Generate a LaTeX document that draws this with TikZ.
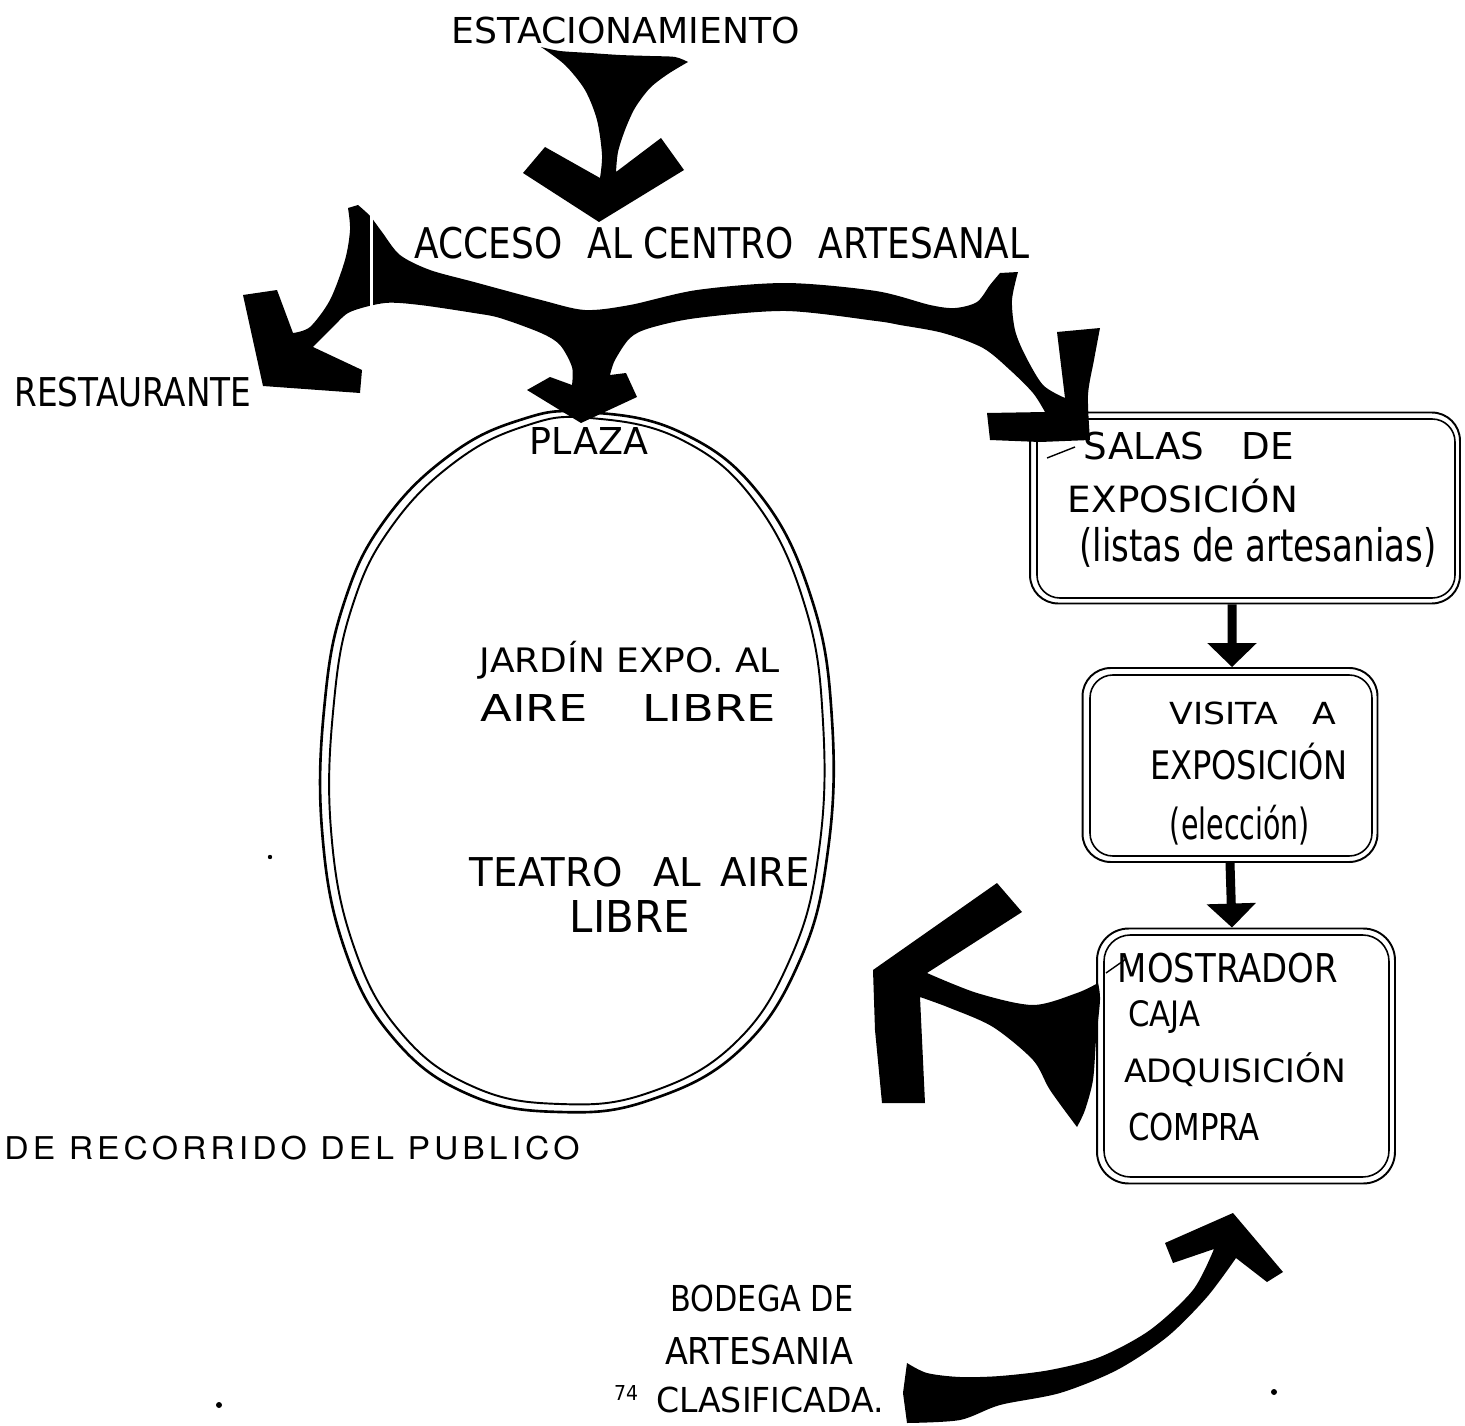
\documentclass[tikz,border=0pt]{standalone}
\usepackage{fontspec}
\setmainfont{DejaVu Sans}
\newfontfamily\typedfont[LetterSpace=12]{TeX Gyre Heros}
\usetikzlibrary{arrows.meta}
\newdimen\pxu \pxu=0.02cm
\newcommand{\hw}[3]{\resizebox*{#1\pxu}{#2\pxu}{#3}}
\begin{document}
\begin{tikzpicture}[x=0.02cm,y=-0.02cm,
  lbl/.style={inner sep=0pt, outer sep=0pt, anchor=center},
  ink/.style={fill=black},
  boxline/.style={draw=black, line width=1.1pt},
  ringline/.style={draw=black, line width=1.5pt},
  smallarrow/.style={line width=0.18cm, -{Triangle[width=0.96cm,length=0.48cm]}}
]
\useasboundingbox (0,0) rectangle (1465,1426);
\fill[white] (0,0) rectangle (1465,1426);

% ---------- texts ----------
\node[lbl] (est) at (626,31) {\hw{348}{27}{ESTACIONAMIENTO}};
\node[lbl] (acc) at (722,243) {\hw{615}{32}{ACCESO\hspace{0.7em}AL CENTRO\hspace{0.7em}ARTESANAL}};
\node[lbl] (rest) at (133,392) {\hw{237}{30}{RESTAURANTE}};
\node[lbl] (plaza) at (589,441) {\hw{118}{27}{PLAZA}};

\node[lbl] at (1189,446) {\hw{210}{28}{SALAS\hspace{1em}DE}};
\node[lbl] at (1183,496) {\hw{230}{34}{EXPOSICIÓN}};
\node[lbl] at (1258,547) {\hw{357}{40}{(listas de artesanias)}};

\node[lbl] at (1253,713) {\hw{167}{23}{VISITA\hspace{1em}A}};
\node[lbl] at (1249,762) {\hw{198}{37}{EXPOSICIÓN}};
\node[lbl] at (1240,825) {\hw{140}{40}{(elección)}};

\node[lbl] at (1228,968) {\hw{220}{30}{MOSTRADOR}};
\node[lbl] at (1164,1017) {\hw{72}{33}{CAJA}};
\node[lbl] at (1235,1070) {\hw{222}{34}{ADQUISICIÓN}};
\node[lbl] at (1194,1127) {\hw{132}{28}{COMPRA}};

\node[lbl] at (630,660) {\hw{300}{38}{JARDÍN EXPO.\ AL}};
\node[lbl] at (628,708) {\hw{295}{27}{AIRE\hspace{1.2em}LIBRE}};
\node[lbl] at (640,872) {\hw{340}{30}{TEATRO\hspace{0.8em}AL\hspace{0.5em}AIRE}};
\node[lbl] at (630,916) {\hw{120}{32}{LIBRE}};

\node[lbl] (title) at (292,1148) {\hw{575}{24}{\typedfont DE RECORRIDO DEL PUBLICO}};

\node[lbl] (bod) at (762,1298) {\hw{183}{27}{BODEGA DE}};
\node[lbl] at (759,1351) {\hw{188}{28}{ARTESANIA}};
\node[lbl] at (770,1400) {\hw{228}{26}{CLASIFICADA.}};
\node[lbl] at (626,1393) {\hw{24}{15}{74}};

% ---------- plaza ring ----------
\draw[ringline] plot[smooth cycle, tension=0.7] coordinates {(585,412) (680,432) (760,495) (812,600) (832,720) (828,850) (800,960) (740,1050) (650,1100) (560,1112) (470,1095) (395,1040) (345,950) (322,830) (325,700) (345,600) (385,520) (450,455) (520,420)};
\draw[ringline, line width=1.1pt] plot[smooth cycle, tension=0.7] coordinates {(590,418) (682,440) (756,503) (805,606) (823,722) (819,850) (791,957) (734,1044) (648,1093) (560,1104) (474,1087) (402,1034) (354,947) (331,830) (334,702) (353,604) (392,526) (455,462) (525,426)};

% ---------- boxes ----------
\node[boxline, rounded corners=16pt, minimum width=8.6cm, minimum height=3.82cm, inner sep=0pt] (salas) at (1245,508) {};
\draw[boxline, line width=0.9pt, rounded corners=13pt] (1037,419) rectangle (1455,598);
\node[boxline, rounded corners=16pt, minimum width=5.9cm, minimum height=3.88cm, inner sep=0pt] (visita) at (1230,765) {};
\draw[boxline, line width=0.9pt, rounded corners=13pt] (1090,675) rectangle (1372,856);
\node[boxline, rounded corners=18pt, minimum width=5.96cm, minimum height=5.1cm, inner sep=0pt] (most) at (1246,1056) {};
\draw[boxline, line width=0.9pt, rounded corners=15pt] (1104,935) rectangle (1389,1177);
\draw[line width=0.8pt] (1047,458) -- (1075,447);
\draw[line width=0.8pt] (1106,973) -- (1126,959);

% ---------- small connectors ----------
\draw[smallarrow] ([xshift=-0.26cm]salas.south) -- ([xshift=0.04cm]visita.north);
\draw[smallarrow] (visita.south) -- ([xshift=-0.28cm]most.north);

% ---------- big brush arrows ----------
% parking -> access
\fill[ink] plot[smooth,tension=.5] coordinates {(541,47) (560,51) (590,53) (620,55) (650,56) (675,57) (688,62)}
 -- plot[smooth,tension=.5] coordinates {(688,62) (668,74) (650,88) (635,108) (625,130) (618,152) (616,172)}
 -- (661,138) -- (684,170) -- (599,222) -- (523,173) -- (545,147) -- (600,178)
 -- plot[smooth,tension=.5] coordinates {(600,178) (602,155) (597,120) (585,90) (565,65) (541,47)} -- cycle;

% access -> restaurante / plaza / salas
\fill[ink] plot[smooth,tension=.5] coordinates {(358,205) (370,216) (382,232) (400,255) (430,270) (474,282) (541,300) (585,310) (630,305) (697,290) (786,283) (876,291) (930,305) (955,308) (977,302) (990,285) (1000,273)}
 -- plot[smooth,tension=.5] coordinates {(1018,272) (1012,300) (1015,330) (1025,355) (1043,385) (1065,398)}
 -- (1057,332) -- (1100,328)
 -- plot[smooth,tension=.5] coordinates {(1100,328) (1094,360) (1088,395) (1090,440)}
 -- (1040,442) -- (990,440) -- (987,413) -- (1045,412)
 -- plot[smooth,tension=.5] coordinates {(1045,412) (1033,393) (1010,370) (983,348) (943,333) (900,325) (876,321) (786,311) (697,318) (650,328) (630,338) (615,360) (610,375)}
 -- (626,373) -- (637,397) -- (581,423) -- (527,390) -- (550,377) -- (572,385)
 -- plot[smooth,tension=.5] coordinates {(572,385) (572,367) (560,345) (541,333) (500,318) (474,313) (420,305) (385,303) (350,312) (333,327) (313,347)}
 -- (362,370) -- (360,393) -- (263,386) -- (243,295) -- (277,290) -- (293,333)
 -- plot[smooth,tension=.5] coordinates {(293,333) (310,327) (330,300) (345,260) (350,230) (348,208)}
 -- cycle;
\draw[white, line width=0.06cm] (371,214) -- (371,308);

% mostrador -> plaza
\fill[ink] (873,970) -- (997,883) -- (1022,912) -- (927,973)
 -- plot[smooth,tension=.5] coordinates {(927,973) (977,993) (1033,1005) (1077,993) (1098,983)}
 -- plot[smooth,tension=.5] coordinates {(1098,983) (1100,1000) (1096,1040) (1093,1080) (1085,1110) (1077,1127)}
 -- plot[smooth,tension=.5] coordinates {(1077,1127) (1050,1090) (1033,1060) (993,1027) (950,1008) (920,997)}
 -- (925,1103) -- (882,1103) -- (875,1030) -- cycle;

% bodega -> mostrador
\fill[ink] (1233,1213) -- (1165,1243) -- (1173,1263) -- (1214,1249)
 -- plot[smooth,tension=.5] coordinates {(1214,1249) (1193,1290) (1150,1330) (1100,1357) (1050,1370) (1000,1376) (960,1377) (927,1373) (907,1363)}
 -- (903,1393) -- (907,1423)
 -- plot[smooth,tension=.5] coordinates {(907,1423) (960,1420) (1000,1405) (1060,1393) (1117,1370) (1167,1337) (1207,1297) (1236,1258)}
 -- (1267,1282) -- (1283,1272) -- cycle;

% dots
\fill (270,857) circle (2.2);
\fill (219,1405) circle (3);
\fill (1274,1392) circle (3);
\end{tikzpicture}
\end{document}
